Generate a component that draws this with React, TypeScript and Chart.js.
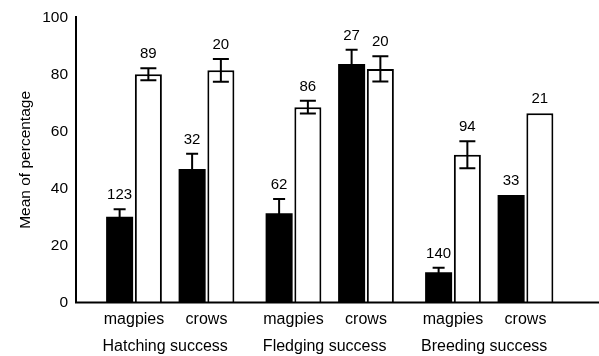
import React, { useEffect, useRef } from 'react';
import { Chart, registerables } from 'chart.js';

Chart.register(...registerables);

// ---- data ----
const groupLabels = ['Hatching success', 'Fledging success', 'Breeding success'];
const speciesLabels = ['magpies', 'crows'];

// black bars
const blackValues = [30.1, 46.8, 31.3, 83.6, 10.6, 37.7];
const blackErrors: (number | null)[] = [2.6, 5.4, 5.0, 5.0, 1.6, null];
const blackCounts = [123, 32, 62, 27, 140, 33];

// white bars
const whiteValues = [80.0, 81.4, 68.5, 81.9, 51.8, 66.4];
const whiteErrors: (number | null)[] = [2.1, 4.0, 2.2, 4.4, 4.7, null];
const whiteCounts = [89, 20, 86, 20, 94, 21];

const yAxisTitle = 'Mean of percentage';

// ---- layout constants ----
const FONT = '"Liberation Sans", Arial, Helvetica, sans-serif';
const GROUP_STEP = 2.2; // distance between groups, in species-spacing units
const GROUP_LABEL_SHIFT = -0.07;
const X_MIN = -0.8;
const X_MAX = 6.414;

const positions = groupLabels.flatMap((_, g) => speciesLabels.map((_, s) => g * GROUP_STEP + s));
const speciesNames = groupLabels.flatMap(() => speciesLabels);
const groupCenters = groupLabels.map((_, g) => g * GROUP_STEP + 0.5 + GROUP_LABEL_SHIFT);

const seriesErrors = [blackErrors, whiteErrors];
const seriesCounts = [blackCounts, whiteCounts];
const capWidths = [12, 16];

const errorBarPlugin = {
  id: 'errorBarsAndCounts',
  afterDatasetsDraw(chart: any) {
    const ctx = chart.ctx;
    const xScale = chart.scales.x;
    const yScale = chart.scales.y;

    // baseline (x axis line) across the full x scale
    const y0 = yScale.getPixelForValue(0);
    ctx.save();
    ctx.strokeStyle = '#000';
    ctx.lineWidth = 2;
    ctx.beginPath();
    ctx.moveTo(xScale.left - 1, y0);
    ctx.lineTo(xScale.right + 1, y0);
    ctx.stroke();
    ctx.restore();

    chart.data.datasets.forEach((ds: any, di: number) => {
      const meta = chart.getDatasetMeta(di);
      meta.data.forEach((bar: any, i: number) => {
        const v = ds.data[i].y as number;
        const e = seriesErrors[di][i];
        ctx.save();
        ctx.strokeStyle = '#000';
        ctx.lineWidth = 2;
        if (e != null) {
          const yt = yScale.getPixelForValue(v + e);
          const yb = yScale.getPixelForValue(v - e);
          const hw = capWidths[di] / 2;
          ctx.beginPath();
          ctx.moveTo(bar.x, yt);
          ctx.lineTo(bar.x, yb);
          ctx.moveTo(bar.x - hw, yt);
          ctx.lineTo(bar.x + hw, yt);
          ctx.moveTo(bar.x - hw, yb);
          ctx.lineTo(bar.x + hw, yb);
          ctx.stroke();
        }
        const top = yScale.getPixelForValue(e != null ? v + e : v);
        ctx.fillStyle = '#000';
        ctx.font = `15px ${FONT}`;
        ctx.textAlign = 'center';
        ctx.textBaseline = 'alphabetic';
        ctx.fillText(String(seriesCounts[di][i]), bar.x, top - 10);
        ctx.restore();
      });
    });
  },
};

export default function App() {
  const canvasRef = useRef<HTMLCanvasElement | null>(null);

  useEffect(() => {
    if (!canvasRef.current) return;

    const chart = new Chart(canvasRef.current, {
      type: 'bar',
      data: {
        datasets: [
          {
            label: 'black',
            data: positions.map((x, i) => ({ x, y: blackValues[i] })),
            backgroundColor: '#000',
            borderWidth: 0,
            categoryPercentage: 0.793,
            barPercentage: 0.94,
          },
          {
            label: 'white',
            data: positions.map((x, i) => ({ x, y: whiteValues[i] })),
            backgroundColor: '#fff',
            borderColor: '#000',
            borderWidth: 2,
            categoryPercentage: 0.793,
            barPercentage: 0.94,
          },
        ],
      },
      options: {
        animation: false,
        responsive: false,
        color: '#000',
        font: { family: FONT },
        layout: { padding: { top: 17, left: 0, right: 0, bottom: 0 } },
        plugins: {
          legend: { display: false },
          tooltip: { enabled: false },
        },
        scales: {
          x: {
            type: 'linear',
            position: 'bottom',
            weight: 0,
            offset: false,
            min: X_MIN,
            max: X_MAX,
            afterBuildTicks: (s: any) => {
              s.ticks = positions.map((v) => ({ value: v }));
            },
            afterFit: (s: any) => {
              s.height = 30;
              s.paddingLeft = 0;
              s.paddingRight = 0;
            },
            ticks: {
              autoSkip: false,
              maxRotation: 0,
              minRotation: 0,
              padding: 7,
              color: '#000',
              font: { family: FONT, size: 16 },
              callback: (_v: any, i: number) => speciesNames[i],
            },
            grid: { display: false, drawTicks: false },
            border: { display: false },
          },
          xGroup: {
            type: 'linear',
            position: 'bottom',
            weight: 1,
            offset: false,
            min: X_MIN,
            max: X_MAX,
            afterBuildTicks: (s: any) => {
              s.ticks = groupCenters.map((v) => ({ value: v }));
            },
            afterFit: (s: any) => {
              s.height = 23.5;
              s.paddingLeft = 0;
              s.paddingRight = 0;
            },
            ticks: {
              autoSkip: false,
              maxRotation: 0,
              minRotation: 0,
              padding: 4,
              color: '#000',
              font: { family: FONT, size: 16 },
              callback: (_v: any, i: number) => groupLabels[i],
            },
            grid: { display: false, drawTicks: false },
            border: { display: false },
          },
          y: {
            type: 'linear',
            position: 'left',
            min: 0,
            max: 100,
            afterFit: (s: any) => {
              s.width = 76;
            },
            ticks: {
              stepSize: 20,
              padding: 8,
              color: '#000',
              font: { family: FONT, size: 15.5 },
            },
            grid: { display: false, drawTicks: false },
            border: { display: true, color: '#000', width: 2 },
            title: {
              display: true,
              text: yAxisTitle,
              color: '#000',
              font: { family: FONT, size: 15.5 },
              padding: { top: 16, bottom: 0 },
            },
          },
        },
      },
      plugins: [errorBarPlugin],
    } as any);

    return () => chart.destroy();
  }, []);

  return (
    <div style={{ position: 'absolute', left: 0, top: 0, width: 599, height: 356, background: '#fff' }}>
      <canvas ref={canvasRef} width={599} height={356} />
    </div>
  );
}
